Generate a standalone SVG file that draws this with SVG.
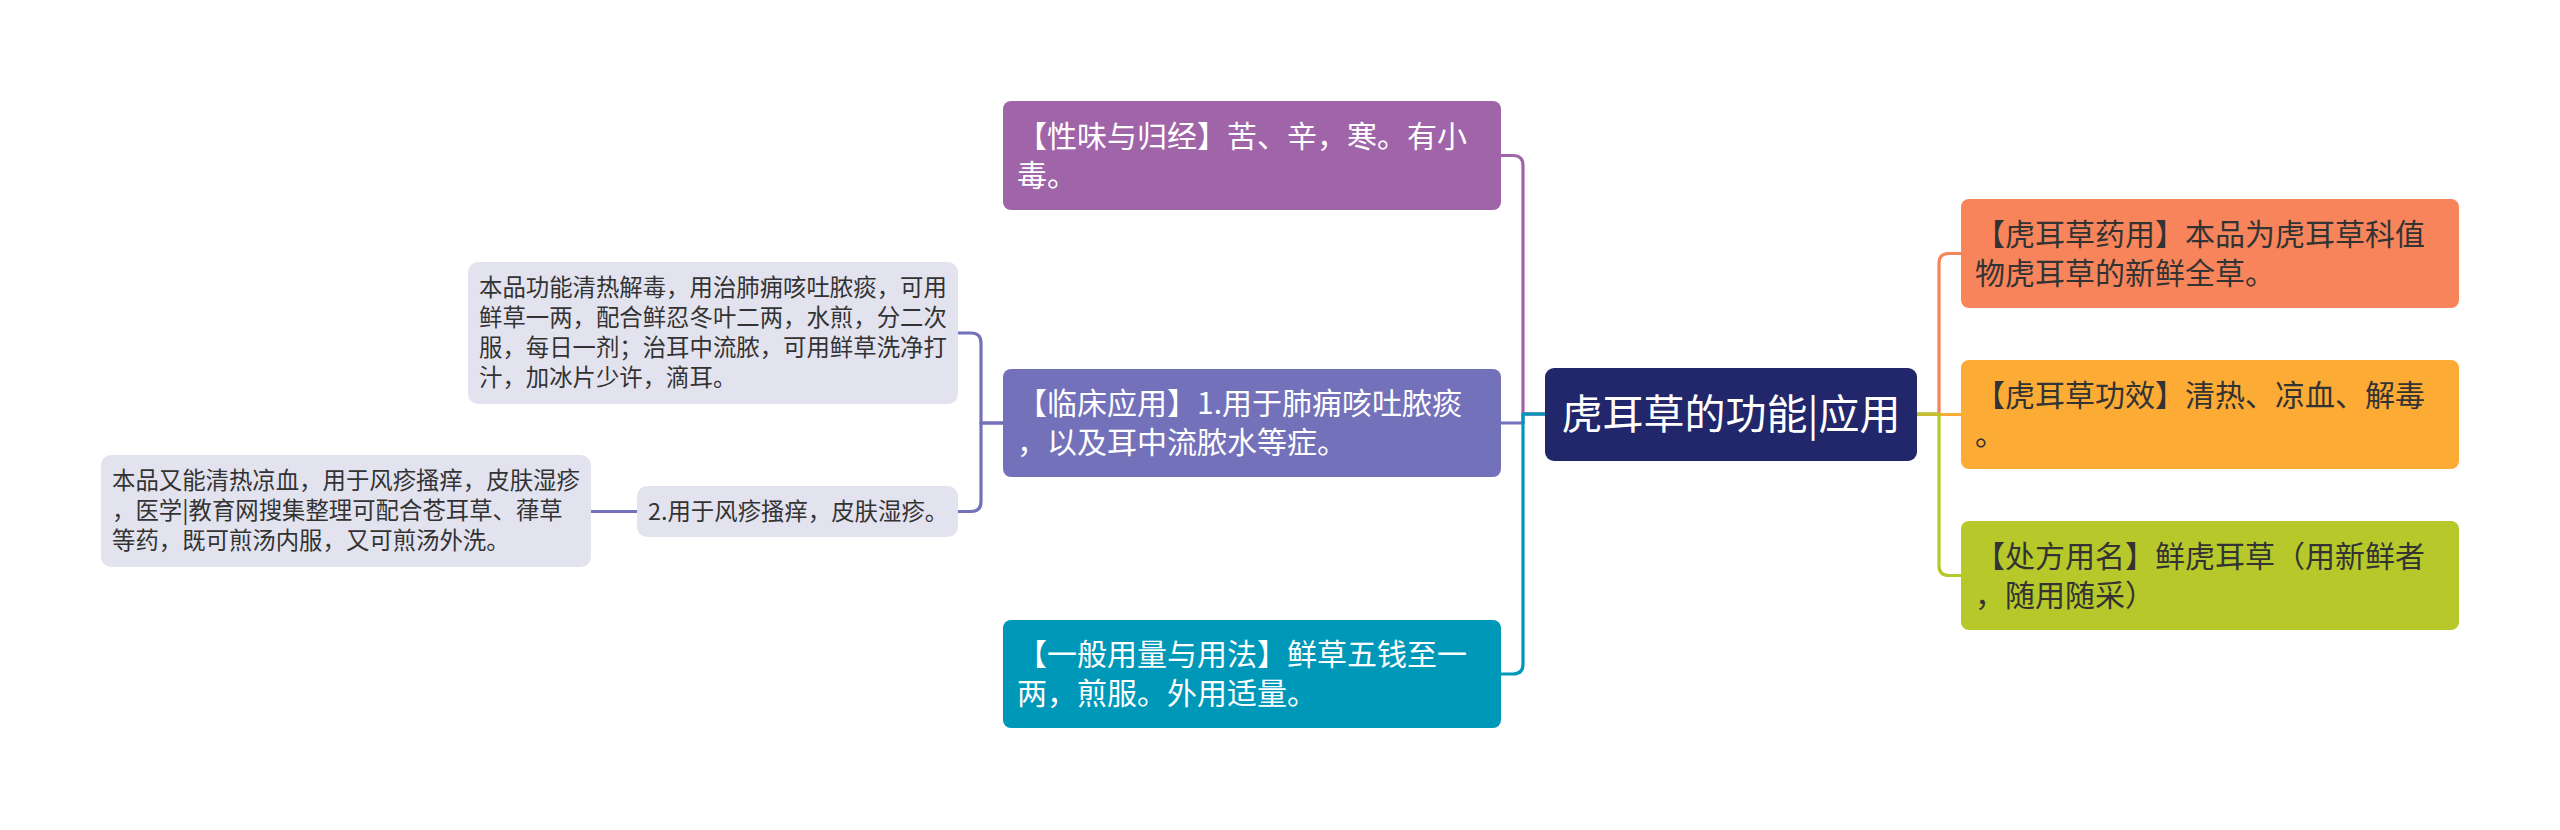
<svg xmlns="http://www.w3.org/2000/svg" width="2560" height="830" viewBox="0 0 2560 830">
<style>
text{font-family:"Noto Sans CJK SC","Noto Sans",sans-serif;}
.m{font-size:30px;}
.w{fill:#ffffff;}
.d{fill:#333333;}
.g{font-size:23.4px;fill:#333333;}
.c{fill:none;stroke-width:3.2;stroke-linecap:round;stroke-linejoin:round;}
</style>
<rect width="2560" height="830" fill="#ffffff"/>
<g id="connectors">
<path class="c" stroke="#a064a8" d="M1501,155.5 H1513 Q1523,155.5 1523,165.5 V414 H1545"/>
<path class="c" stroke="#7471bb" d="M1501,423 H1523 V414 H1545"/>
<path class="c" stroke="#0098b8" d="M1501,674 H1513 Q1523,674 1523,664 V414 H1545"/>
<path class="c" stroke="#fcab35" d="M1917,414.5 H1961"/>
<path class="c" stroke="#f7845a" d="M1917,414 H1939 V263.5 Q1939,253.5 1949,253.5 H1961"/>
<path class="c" stroke="#b6c82a" d="M1917,414 H1939 V565.5 Q1939,575.5 1949,575.5 H1961"/>
<path class="c" stroke="#7471bb" d="M1003,423 H981 V343 Q981,333 971,333 H958"/>
<path class="c" stroke="#7471bb" d="M1003,423 H981 V501.5 Q981,511.5 971,511.5 H958"/>
<path class="c" stroke="#7471bb" stroke-width="4" d="M637,511.5 H591"/>
</g>
<g id="root">
<rect x="1545" y="368" width="372" height="93" rx="9" fill="#21276a"/>
<text x="1731" y="429" font-size="41" text-anchor="middle" class="w">虎耳草的功能|应用</text>
</g>
<g id="n-xingwei">
<rect x="1003" y="101" width="498" height="109" rx="8" fill="#a064a8"/>
<text class="m w" x="1017" y="146.5">【性味与归经】苦、辛，寒。有小</text>
<text class="m w" x="1017" y="185.5">毒。</text>
</g>
<g id="n-linchuang">
<rect x="1003" y="369" width="498" height="108" rx="8" fill="#7471bb"/>
<text class="m w" x="1017" y="414">【临床应用】1.用于肺痈咳吐脓痰</text>
<text class="m w" x="1017" y="453">，以及耳中流脓水等症。</text>
</g>
<g id="n-yiban">
<rect x="1003" y="620" width="498" height="108" rx="8" fill="#0098b8"/>
<text class="m w" x="1017" y="665">【一般用量与用法】鲜草五钱至一</text>
<text class="m w" x="1017" y="704">两，煎服。外用适量。</text>
</g>
<g id="n-gray1">
<rect x="468" y="262" width="490" height="142" rx="10" fill="#e3e3f0"/>
<text class="g" x="479" y="296">本品功能清热解毒，用治肺痈咳吐脓痰，可用</text>
<text class="g" x="479" y="326">鲜草一两，配合鲜忍冬叶二两，水煎，分二次</text>
<text class="g" x="479" y="356">服，每日一剂；治耳中流脓，可用鲜草洗净打</text>
<text class="g" x="479" y="386">汁，加冰片少许，滴耳。</text>
</g>
<g id="n-gray2">
<rect x="637" y="486" width="321" height="51" rx="10" fill="#e3e3f0"/>
<text class="g" x="648" y="520">2.用于风疹搔痒，皮肤湿疹。</text>
</g>
<g id="n-gray3">
<rect x="101" y="455" width="490" height="112" rx="10" fill="#e3e3f0"/>
<text class="g" x="112" y="489">本品又能清热凉血，用于风疹搔痒，皮肤湿疹</text>
<text class="g" x="112" y="519">，医学|教育网搜集整理可配合苍耳草、葎草</text>
<text class="g" x="112" y="549">等药，既可煎汤内服，又可煎汤外洗。</text>
</g>
<g id="n-yaoyong">
<rect x="1961" y="199" width="498" height="109" rx="8" fill="#f7845a"/>
<text class="m d" x="1975" y="244.5">【虎耳草药用】本品为虎耳草科值</text>
<text class="m d" x="1975" y="283.5">物虎耳草的新鲜全草。</text>
</g>
<g id="n-gongxiao">
<rect x="1961" y="360" width="498" height="109" rx="8" fill="#fcab35"/>
<text class="m d" x="1975" y="405.5">【虎耳草功效】清热、凉血、解毒</text>
<text class="m d" x="1975" y="444.5">。</text>
</g>
<g id="n-chufang">
<rect x="1961" y="521" width="498" height="109" rx="8" fill="#b6c82a"/>
<text class="m d" x="1975" y="566.5">【处方用名】鲜虎耳草（用新鲜者</text>
<text class="m d" x="1975" y="605.5">，随用随采）</text>
</g>
</svg>
